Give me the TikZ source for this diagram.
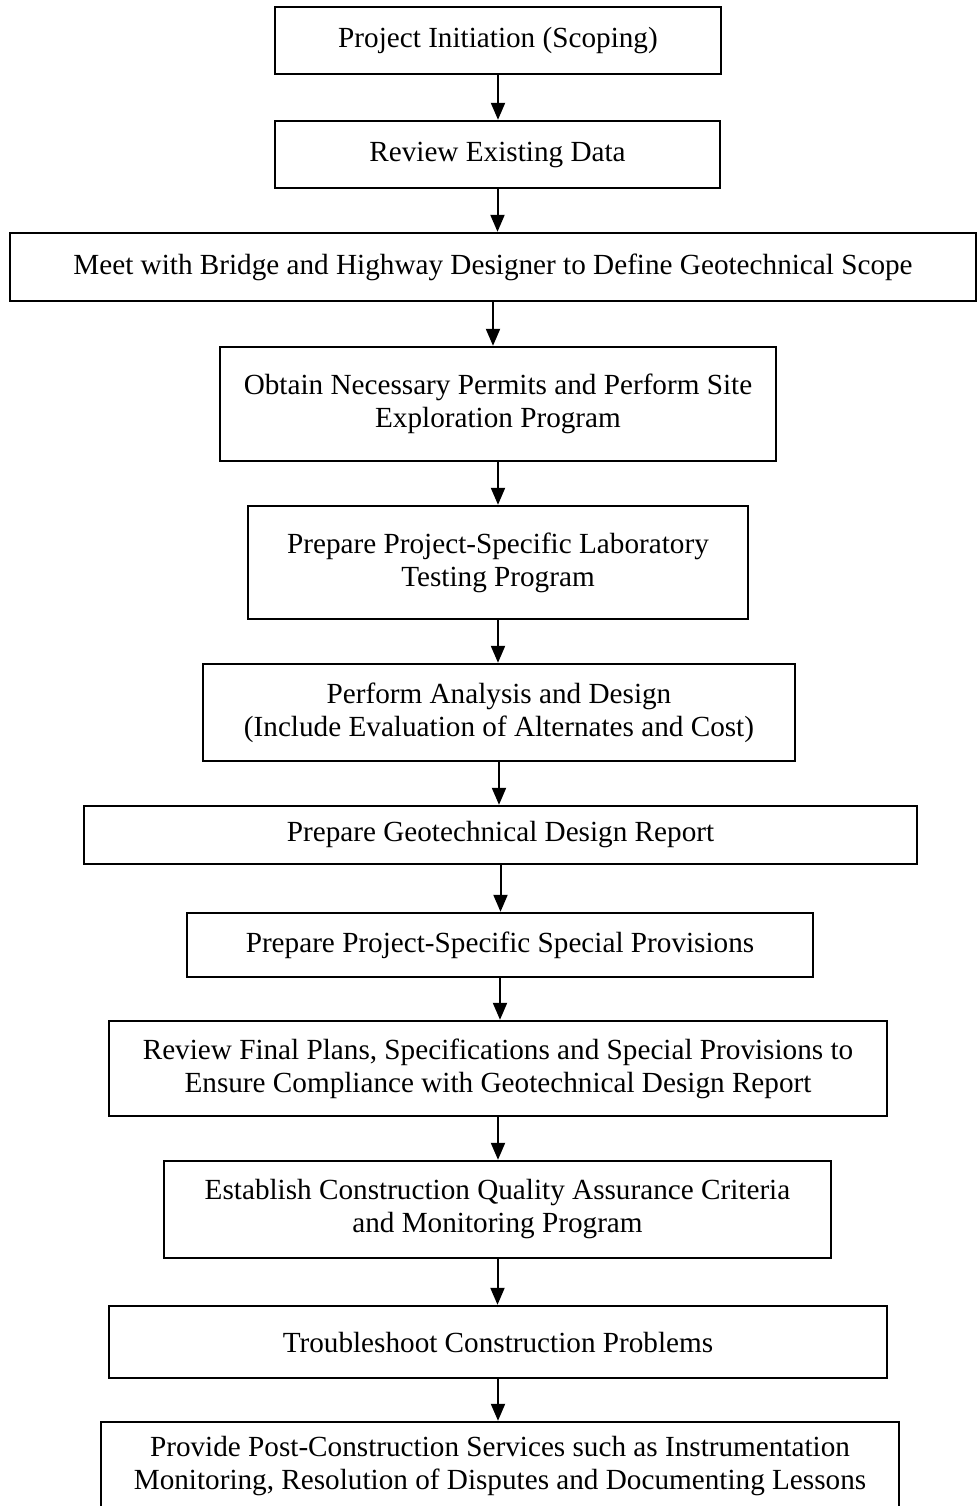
\documentclass[tikz,border=0pt]{standalone}
\usepackage{fontspec}
\setmainfont{Liberation Serif}
\usepackage{tikz}
\usetikzlibrary{arrows.meta}
\tikzset{
  box/.style={draw,line width=1.2pt,align=center,inner sep=2pt,font=\fontsize{14.6}{16.5}\selectfont},
  ar/.style={-{Triangle[length=8.5pt,width=7pt]},line width=1pt}
}
\begin{document}
\begin{tikzpicture}[x=0.5pt,y=-0.5pt]
\clip (0,0) rectangle (979,1506);
\fill[white] (0,0) rectangle (979,1506);
\node[box,minimum width=223pt,minimum height=33.5pt] (init) at (498,40.5) {Project Initiation (Scoping)};
\node[box,minimum width=222.5pt,minimum height=33.5pt] (data) at (497.5,154.5) {Review Existing Data};
\node[box,minimum width=483pt,minimum height=34pt] (meet) at (493,267) {Meet with Bridge and Highway Designer to Define Geotechnical Scope};
\node[box,minimum width=278pt,minimum height=57pt] (explore) at (498,404) {Obtain Necessary Permits and Perform Site\\Exploration Program};
\node[box,minimum width=250pt,minimum height=56.5pt] (lab) at (498,562.5) {Prepare Project-Specific Laboratory\\Testing Program};
\node[box,minimum width=296pt,minimum height=48.5pt] (design) at (499,712.5) {Perform Analysis and Design\\(Include Evaluation of Alternates and Cost)};
\node[box,minimum width=416.5pt,minimum height=29pt] (report) at (500.5,835) {Prepare Geotechnical Design Report};
\node[box,minimum width=313pt,minimum height=32pt] (spec) at (500,945) {Prepare Project-Specific Special Provisions};
\node[box,minimum width=389pt,minimum height=47.5pt] (plans) at (498,1068.5) {Review Final Plans, Specifications and Special Provisions to\\Ensure Compliance with Geotechnical Design Report};
\node[box,minimum width=333.5pt,minimum height=48.5pt] (qa) at (497.5,1209.5) {Establish Construction Quality Assurance Criteria\\and Monitoring Program};
\node[box,minimum width=389pt,minimum height=36pt] (trouble) at (498,1342) {Troubleshoot Construction Problems};
\node[box,minimum width=399pt,minimum height=44.5pt] (post) at (500,1466.5) {Provide Post-Construction Services such as Instrumentation\\Monitoring, Resolution of Disputes and Documenting Lessons};
\foreach \a/\b in {init/data,data/meet,meet/explore,explore/lab,lab/design,design/report,report/spec,spec/plans,plans/qa,qa/trouble,trouble/post}
  \draw[ar] (\a.south) -- (\a.south |- \b.north);
\end{tikzpicture}
\end{document}
